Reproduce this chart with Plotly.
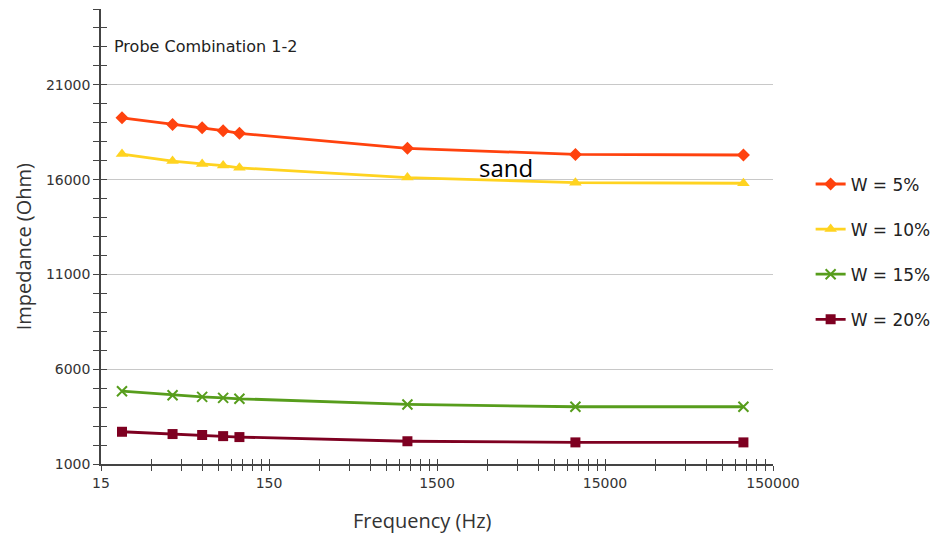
import plotly.graph_objects as go

freq = [20, 40, 60, 80, 100, 1000, 10000, 100000]
w5 = [19260, 18910, 18740, 18580, 18440, 17650, 17330, 17300]
w10 = [17350, 16980, 16830, 16740, 16620, 16110, 15840, 15810]
w15 = [4840, 4630, 4540, 4490, 4440, 4140, 4020, 4020]
w20 = [2700, 2580, 2530, 2470, 2420, 2200, 2140, 2140]

series_names = ["W = 5%", "W = 10%", "W = 15%", "W = 20%"]
colors = ["#ff420e", "#ffd320", "#579d1c", "#7e0021"]
symbols = ["diamond", "triangle-up", "x-thin", "square"]
sizes = [10, 11, 10, 10]

x_major = [15, 150, 1500, 15000, 150000]
x_minor = [m * 15 * 10 ** k for k in range(4) for m in range(2, 10)]
y_major = [1000, 6000, 11000, 16000, 21000]

fig = go.Figure()
for i, (name, vals) in enumerate(zip(series_names, [w5, w10, w15, w20])):
    fig.add_trace(go.Scatter(
        x=freq, y=vals, name=name, mode="lines+markers",
        legendgroup=name,
        line=dict(color=colors[i], width=2.8),
        marker=dict(symbol=symbols[i], size=sizes[i], color=colors[i],
                    line=dict(color=colors[i], width=2 if symbols[i] == "x-thin" else 0)),
    ))

# invisible trace to drive overlaid axes (inside ticks)
fig.add_trace(go.Scatter(x=[15], y=[1000], xaxis="x2", yaxis="y2",
                         mode="markers", marker=dict(opacity=0), showlegend=False,
                         hoverinfo="skip"))

axis_color = "#444444"
tick_font = dict(family="DejaVu Sans", size=14, color="#333333")
title_font = dict(family="Open Sans", size=20, color="#333333")

fig.update_layout(
    width=940, height=534,
    margin=dict(l=93, r=175, t=1, b=78),
    paper_bgcolor="white", plot_bgcolor="white",
    showlegend=True,
    legend=dict(x=1.056, y=0.466, xanchor="left", yanchor="middle",
                font=dict(family="DejaVu Sans", size=17, color="#222222"),
                tracegroupgap=20, traceorder="grouped", itemwidth=30),
    xaxis=dict(type="log", range=[1.176091, 5.176091],
               tickmode="array", tickvals=x_major,
               ticktext=[str(v) for v in x_major],
               ticks="outside", ticklen=5, tickcolor=axis_color, tickwidth=1,
               minor=dict(tickmode="array", tickvals=x_minor, ticks="outside",
                          ticklen=5, tickcolor=axis_color, showgrid=False),
               showline=True, linecolor=axis_color, linewidth=1.5,
               showgrid=False, zeroline=False, tickfont=tick_font),
    yaxis=dict(range=[1000, 25000],
               tickmode="array", tickvals=y_major,
               ticktext=[str(v) for v in y_major],
               ticks="outside", ticklen=6, tickcolor=axis_color, tickwidth=1,
               minor=dict(dtick=1000, tick0=1000, ticks="outside", ticklen=6,
                          tickcolor=axis_color, showgrid=False),
               showline=True, linecolor=axis_color, linewidth=1.5,
               showgrid=True, gridcolor="#c8c8c8", gridwidth=1,
               zeroline=False, tickfont=tick_font),
    xaxis2=dict(type="log", range=[1.176091, 5.176091], overlaying="x",
                anchor="y2", side="bottom",
                tickmode="array", tickvals=x_major, showticklabels=False,
                ticks="inside", ticklen=5, tickcolor=axis_color,
                minor=dict(tickmode="array", tickvals=x_minor, ticks="inside",
                           ticklen=5, tickcolor=axis_color, showgrid=False),
                showgrid=False, zeroline=False, showline=False),
    yaxis2=dict(range=[1000, 25000], overlaying="y", anchor="x2", side="left",
                tickmode="array", tickvals=y_major, showticklabels=False,
                ticks="inside", ticklen=6, tickcolor=axis_color,
                minor=dict(dtick=1000, tick0=1000, ticks="inside", ticklen=6,
                           tickcolor=axis_color, showgrid=False),
                showgrid=False, zeroline=False, showline=False),
    annotations=[
        dict(text="Probe Combination 1-2", xref="paper", yref="paper",
             x=0.016, y=0.9165, xanchor="left", yanchor="middle", showarrow=False,
             font=dict(family="DejaVu Sans", size=16, color="#222222")),
        dict(text="sand", xref="paper", yref="paper",
             x=0.6027, y=0.652, xanchor="center", yanchor="middle", showarrow=False,
             font=dict(family="Open Sans", size=24, color="#000000")),
        dict(text="Frequency (Hz)", xref="paper", yref="paper",
             x=0.478, y=-0.125, xanchor="center", yanchor="middle", showarrow=False,
             font=title_font),
        dict(text="Impedance (Ohm)", xref="paper", yref="paper", textangle=-90,
             x=-0.114, y=0.477, xanchor="center", yanchor="middle", showarrow=False,
             font=title_font),
    ],
)

fig.write_html("out.html")
